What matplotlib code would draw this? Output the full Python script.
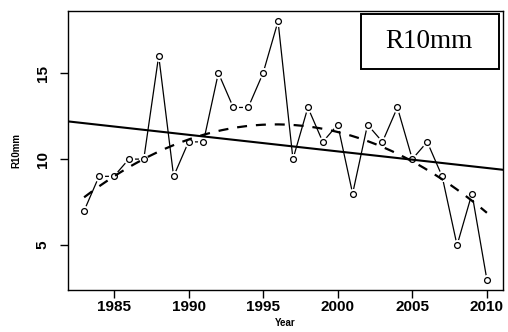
import numpy as np
import matplotlib.pyplot as plt
from matplotlib.patches import Rectangle

# Annual count of days with precipitation >= 10 mm
years = np.arange(1983, 2011)
r10mm = [7, 9, 9, 10, 10, 16, 9, 11, 11, 15, 13, 13, 15, 18, 10,
         13, 11, 12, 8, 12, 11, 13, 10, 11, 9, 5, 8, 3]

# smooth (dashed) trend curve, sampled points
curve_years = [1983.0, 1984.1, 1986.3, 1988.3, 1990.3, 1991.6, 1992.6, 1995.5,
               1997.3, 1999.5, 2001.3, 2002.2, 2004.4, 2006.2, 2008.2, 2009.2, 2010.0]
curve_vals = [7.85, 8.5, 9.45, 10.45, 11.25, 11.65, 11.88, 12.12,
              12.08, 11.69, 11.24, 10.91, 9.98, 9.01, 8.05, 7.56, 7.08]

plt.rcParams['font.family'] = ['Liberation Sans', 'DejaVu Sans']

fig = plt.figure(figsize=(5.08, 3.32), dpi=100)
ax = fig.add_axes([68 / 508, 1 - 290 / 332, 435 / 508, 279 / 332])

# series with open circles, gaps around points like R type="b"
ax.plot(years, r10mm, color='black', lw=0.9, zorder=2)
ax.plot(years, r10mm, ls='none', marker='o', ms=8, mfc='white', mec='none', zorder=3)
ax.plot(years, r10mm, ls='none', marker='o', ms=4.2, mfc='white', mec='black', mew=0.9, zorder=4)

# linear trend across the whole panel
lin = np.polyfit(years, r10mm, 1)
xx = np.array([1970, 2020])
ax.plot(xx, np.polyval(lin, xx), color='black', lw=1.5, zorder=5)

# dashed curve, smoothed through the sampled points
quad = np.polyfit(curve_years, curve_vals, 2)
xs = np.linspace(1983, 2010, 200)
ax.plot(xs, np.polyval(quad, xs), color='black', lw=1.6, dashes=(4.5, 4), zorder=5)

ax.set_xlim(1981.92, 2011.08)
ax.set_ylim(2.4, 18.6)
ax.set_xticks([1985, 1990, 1995, 2000, 2005, 2010])
ax.set_yticks([5, 10, 15])
ax.tick_params(direction='out', length=6, width=1, labelsize=11)
ax.tick_params(axis='x', pad=1)
ax.tick_params(axis='y', pad=7)
for lab in ax.get_xticklabels() + ax.get_yticklabels():
    lab.set_fontweight('bold')
for lab in ax.get_yticklabels():
    lab.set_rotation(90)
    lab.set_va('center')
for s in ax.spines.values():
    s.set_linewidth(1)

fig.text(285.5 / 508, 1 - 323 / 332, 'Year', ha='center', va='center',
         fontsize=7, fontweight='bold')
fig.text(16 / 508, 1 - 150 / 332, 'R10mm', ha='center', va='center',
         fontsize=7, fontweight='bold', rotation=90)

# legend-style label box in the top right corner
ax.add_patch(Rectangle((0.6736, 0.7921), 0.3172, 0.1971, transform=ax.transAxes,
                       fc='white', ec='black', lw=1.4, zorder=6))
ax.text(0.83, 0.8907, 'R10mm', transform=ax.transAxes, ha='center', va='center',
        fontsize=19.5, family='Liberation Serif', zorder=7)

fig.savefig('out.png', dpi=100)
